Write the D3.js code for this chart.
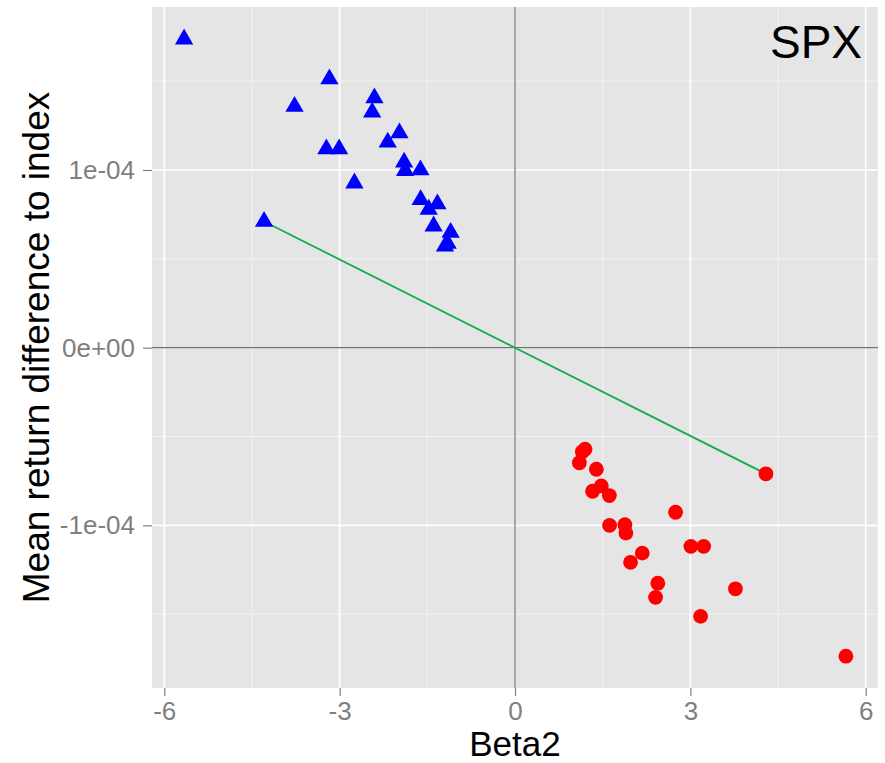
<!DOCTYPE html>
<html>
<head>
<meta charset="utf-8">
<script src="https://cdn.jsdelivr.net/npm/d3@7"></script>
<style>
  html, body { margin: 0; padding: 0; background: #ffffff; }
  svg { display: block; }
  text { font-family: "Liberation Sans", Arial, Helvetica, sans-serif; }
</style>
</head>
<body>
<svg id="chart" width="885" height="763"></svg>
<script>
// Beta2 vs. mean return difference to index, SPX
const panelTitle = "SPX";
const xTitle = "Beta2";
const yTitle = "Mean return difference to index";

// Stocks with negative Beta2 (triangles)
const negBeta = [-5.661, -3.175, -3.771, -2.405, -2.443, -1.977, -2.177, -3.227, -3.009, -1.897, -1.880,
                 -1.618, -2.747, -1.614, -1.327, -1.476, -4.293, -1.392, -1.101, -1.198, -1.152];
const negRet  = [1.736e-4, 1.512e-4, 1.357e-4, 1.405e-4, 1.325e-4, 1.208e-4, 1.156e-4, 1.118e-4, 1.118e-4,
                 1.043e-4, 0.996e-4, 1.000e-4, 0.926e-4, 0.832e-4, 0.808e-4, 0.778e-4, 0.710e-4, 0.684e-4,
                 0.648e-4, 0.571e-4, 0.586e-4];

// Stocks with positive Beta2 (circles)
const posBeta = [5.661, 3.175, 3.771, 2.405, 2.443, 1.977, 2.177, 3.227, 3.009, 1.897, 1.880,
                 1.618, 2.747, 1.614, 1.327, 1.476, 4.293, 1.392, 1.101, 1.198, 1.152];
const posRet  = [-1.736e-4, -1.512e-4, -1.357e-4, -1.405e-4, -1.325e-4, -1.208e-4, -1.156e-4, -1.118e-4, -1.118e-4,
                 -1.043e-4, -0.996e-4, -1.000e-4, -0.926e-4, -0.832e-4, -0.808e-4, -0.778e-4, -0.710e-4, -0.684e-4,
                 -0.648e-4, -0.571e-4, -0.586e-4];

// Segment joining one pair of points through the origin
const segBeta = [-4.293, 4.293];
const segRet  = [0.710e-4, -0.710e-4];

// Axis ticks and labels
const xTicks = [-6, -3, 0, 3, 6];
const xTickLabels = ["-6", "-3", "0", "3", "6"];
const xMinor = [-4.5, -1.5, 1.5, 4.5];
const yTicks = [-1e-4, 0, 1e-4];
const yTickLabels = ["-1e-04", "0e+00", "1e-04"];
const yMinor = [-1.5e-4, -0.5e-4, 0.5e-4, 1.5e-4];

const xDomain = [-6.21, 6.21];
const yDomain = [-1.915e-4, 1.917e-4];

const svg = d3.select("#chart");
const panel = { left: 152, right: 878, top: 7, bottom: 688 };

const x = d3.scaleLinear().domain(xDomain).range([panel.left, panel.right]);
const y = d3.scaleLinear().domain(yDomain).range([panel.bottom, panel.top]);

// Panel background
svg.append("rect")
  .attr("x", panel.left).attr("y", panel.top)
  .attr("width", panel.right - panel.left).attr("height", panel.bottom - panel.top)
  .attr("fill", "#e5e5e5");

const grid = svg.append("g");
// Minor grid
grid.selectAll(".xminor").data(xMinor).join("line")
  .attr("x1", d => x(d)).attr("x2", d => x(d))
  .attr("y1", panel.top).attr("y2", panel.bottom)
  .attr("stroke", "#f2f2f2").attr("stroke-width", 1);
grid.selectAll(".yminor").data(yMinor).join("line")
  .attr("y1", d => y(d)).attr("y2", d => y(d))
  .attr("x1", panel.left).attr("x2", panel.right)
  .attr("stroke", "#f2f2f2").attr("stroke-width", 1);
// Major grid
grid.selectAll(".xmajor").data(xTicks).join("line")
  .attr("x1", d => x(d)).attr("x2", d => x(d))
  .attr("y1", panel.top).attr("y2", panel.bottom)
  .attr("stroke", "#ffffff").attr("stroke-width", 1.6);
grid.selectAll(".ymajor").data(yTicks).join("line")
  .attr("y1", d => y(d)).attr("y2", d => y(d))
  .attr("x1", panel.left).attr("x2", panel.right)
  .attr("stroke", "#ffffff").attr("stroke-width", 1.6);

// Reference lines at zero
svg.append("line")
  .attr("x1", x(0)).attr("x2", x(0)).attr("y1", panel.top).attr("y2", panel.bottom)
  .attr("stroke", "#707070").attr("stroke-width", 1.2);
svg.append("line")
  .attr("y1", y(0)).attr("y2", y(0)).attr("x1", panel.left).attr("x2", panel.right)
  .attr("stroke", "#707070").attr("stroke-width", 1.2);

// Axes
const xAxis = d3.axisBottom(x).tickValues(xTicks)
  .tickFormat((d, i) => xTickLabels[i]).tickSize(8).tickPadding(6);
const gx = svg.append("g").attr("transform", `translate(0,${panel.bottom})`).call(xAxis);
gx.select(".domain").remove();
gx.selectAll(".tick line").attr("stroke", "#7f7f7f").attr("stroke-width", 1.2);
gx.selectAll(".tick text").attr("fill", "#7f7f7f").attr("font-size", 26)
  .attr("font-family", "'Liberation Sans', Arial, sans-serif");

const yAxis = d3.axisLeft(y).tickValues(yTicks)
  .tickFormat(d => yTickLabels[yTicks.indexOf(d)]).tickSize(9).tickPadding(8);
const gy = svg.append("g").attr("transform", `translate(${panel.left},0)`).call(yAxis);
gy.select(".domain").remove();
gy.selectAll(".tick line").attr("stroke", "#7f7f7f").attr("stroke-width", 1.2);
gy.selectAll(".tick text").attr("fill", "#7f7f7f").attr("font-size", 26)
  .attr("font-family", "'Liberation Sans', Arial, sans-serif");

// Connecting segment
svg.append("path")
  .datum(segBeta.map((b, i) => [b, segRet[i]]))
  .attr("d", d3.line().x(d => x(d[0])).y(d => y(d[1])))
  .attr("fill", "none").attr("stroke", "#16ab4c").attr("stroke-width", 1.8);

// Triangles
const tri = d3.symbol().type(d3.symbolTriangle).size(145);
svg.append("g").selectAll("path").data(negBeta.map((b, i) => [b, negRet[i]])).join("path")
  .attr("transform", d => `translate(${x(d[0])},${y(d[1])})`)
  .attr("d", tri).attr("fill", "#0000ff");

// Circles
svg.append("g").selectAll("circle").data(posBeta.map((b, i) => [b, posRet[i]])).join("circle")
  .attr("cx", d => x(d[0])).attr("cy", d => y(d[1])).attr("r", 7.4)
  .attr("fill", "#ff0000");

// Panel label
svg.append("text")
  .attr("x", 862).attr("y", 58).attr("text-anchor", "end")
  .attr("font-size", 46).attr("fill", "#000").text(panelTitle);

// Axis titles
svg.append("text")
  .attr("x", x(0)).attr("y", 756).attr("text-anchor", "middle")
  .attr("font-size", 35).attr("fill", "#000").text(xTitle);
svg.append("text")
  .attr("transform", `translate(49,${(panel.top + panel.bottom) / 2}) rotate(-90)`)
  .attr("text-anchor", "middle")
  .attr("font-size", 37).attr("fill", "#000").text(yTitle);
</script>
</body>
</html>
